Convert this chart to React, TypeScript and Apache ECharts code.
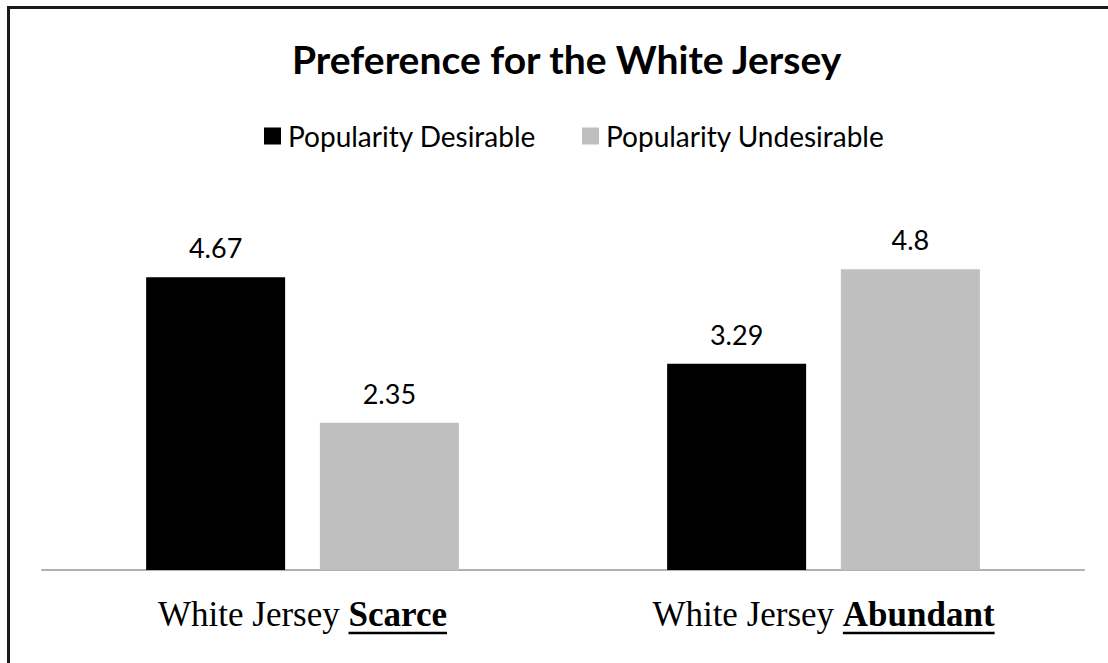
import React, { useEffect, useRef } from "react";
import * as echarts from "echarts";

const categories = ["White Jersey Scarce", "White Jersey Abundant"];
const seriesNames = ["Popularity Desirable", "Popularity Undesirable"];
const desirable = [4.67, 3.29];
const undesirable = [2.35, 4.8];
const colors = ["#000000", "#BFBFBF"];
const titleText = "Preference for the White Jersey";

const SERIF = "'Liberation Serif', 'Times New Roman', serif";
const SANS = "Lato, 'Open Sans', sans-serif";
const CAT_SIZE = 35;
const TITLE_SIZE = 39;
const LEGEND_SIZE = 28;
const LABEL_SIZE = 27;

function splitCat(c: string) {
  const i = c.lastIndexOf(" ");
  return [c.slice(0, i + 1), c.slice(i + 1)];
}

export default function App() {
  const ref = useRef<HTMLDivElement>(null);
  useEffect(() => {
    if (!ref.current) return;
    const chart = echarts.init(ref.current, null, { renderer: "svg" });
    const canvas = document.createElement("canvas");
    const ctx = canvas.getContext("2d") as CanvasRenderingContext2D;
    const measure = (t: string, font: string) => {
      ctx.font = font;
      return ctx.measureText(t).width;
    };
    const titleW = measure(titleText, `bold ${TITLE_SIZE}px ${SANS}`);
    const legendGap = 46;
    const legendW =
      seriesNames.reduce((s, n) => s + 17 + 7 + measure(n, `${LEGEND_SIZE}px ${SANS}`), 0) + legendGap;

    const labelCfg = {
      show: true,
      position: "top",
      distance: 16,
      fontFamily: SANS,
      fontSize: LABEL_SIZE,
      color: "#000",
    };
    const option: any = {
      animation: false,
      backgroundColor: "#ffffff",
      title: {
        text: titleText,
        left: Math.round(563 - titleW / 2),
        top: 34,
        textStyle: { fontFamily: SANS, fontWeight: "bold", fontSize: TITLE_SIZE, color: "#000" },
      },
      legend: {
        data: seriesNames,
        top: 117,
        left: Math.round(569 - legendW / 2),
        itemWidth: 17,
        itemHeight: 17,
        itemGap: legendGap,
        icon: "rect",
        textStyle: { fontFamily: SANS, fontSize: LEGEND_SIZE, color: "#000", padding: [0, 0, 0, 2] },
      },
      grid: { left: 42, right: 24, top: 194, bottom: 93, containLabel: false },
      xAxis: {
        type: "category",
        data: categories,
        axisLine: { show: true, lineStyle: { color: "#B0B0B0", width: 2 } },
        axisTick: { show: false },
        axisLabel: {
          margin: 27,
          formatter: (v: string) => {
            const [a, b] = splitCat(v);
            return `{a|${a}}{b|${b}}`;
          },
          rich: {
            a: { fontFamily: SERIF, fontSize: CAT_SIZE, color: "#000" },
            b: { fontFamily: SERIF, fontSize: CAT_SIZE, fontWeight: "bold", color: "#000" },
          },
        },
      },
      yAxis: { type: "value", min: 0, max: 6, show: false, splitLine: { show: false } },
      series: [
        {
          name: seriesNames[0],
          type: "bar",
          data: desirable,
          barWidth: 139,
          barGap: "25%",
          itemStyle: { color: colors[0] },
          label: labelCfg,
        },
        {
          name: seriesNames[1],
          type: "bar",
          data: undesirable,
          barWidth: 139,
          barGap: "25%",
          itemStyle: { color: colors[1] },
          label: labelCfg,
        },
      ],
    };
    chart.setOption(option);

    const graphics: any[] = [
      {
        type: "rect",
        shape: { x: 8.5, y: 7.5, width: 1108, height: 663 },
        style: { fill: "none", stroke: "#1a1a1a", lineWidth: 3 },
        silent: true,
      },
    ];
    categories.forEach((c) => {
      const [a, b] = splitCat(c);
      const wa = measure(a, `${CAT_SIZE}px ${SERIF}`);
      const wb = measure(b, `bold ${CAT_SIZE}px ${SERIF}`);
      const cx = chart.convertToPixel({ xAxisIndex: 0 }, c) as number;
      const x0 = cx - (wa + wb) / 2 + wa;
      const x1 = cx + (wa + wb) / 2;
      graphics.push({
        type: "line",
        shape: { x1: x0, y1: 633, x2: x1, y2: 633 },
        style: { stroke: "#000", lineWidth: 2.5 },
        silent: true,
      });
    });
    chart.setOption({ graphic: graphics });
    return () => chart.dispose();
  }, []);
  return (
    <div
      ref={ref}
      style={{ position: "fixed", left: 0, top: 0, width: 1108, height: 663, background: "#fff" }}
    />
  );
}
